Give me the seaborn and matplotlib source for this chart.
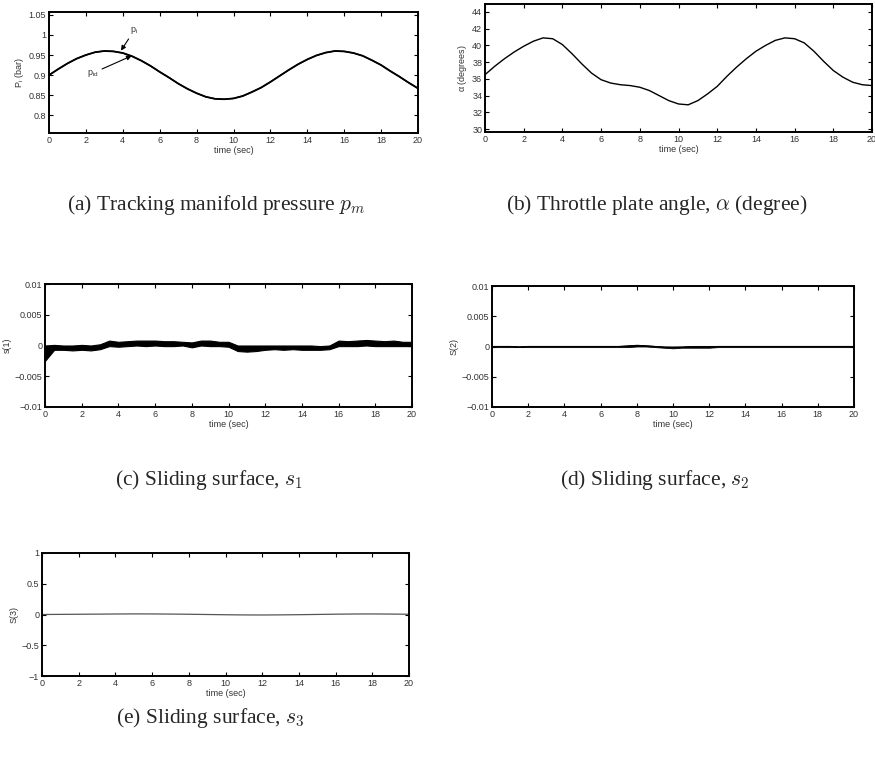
import numpy as np
import pandas as pd
import matplotlib
matplotlib.use("Agg")
import matplotlib.pyplot as plt
import seaborn as sns

# ---------------- data ----------------
time_half = [i * 0.5 for i in range(41)]  # 0..20 s, 0.5 s step

p_i = [0.900, 0.915, 0.929, 0.941, 0.950, 0.957, 0.960, 0.959, 0.955, 0.947,
       0.936, 0.923, 0.908, 0.894, 0.879, 0.866, 0.855, 0.846, 0.841, 0.840,
       0.842, 0.848, 0.858, 0.869, 0.883, 0.898, 0.913, 0.927, 0.939, 0.949,
       0.956, 0.960, 0.959, 0.955, 0.948, 0.937, 0.925, 0.910, 0.896, 0.881,
       0.867]
p_id = [0.900, 0.915, 0.929, 0.941, 0.950, 0.957, 0.960, 0.959, 0.955, 0.947,
        0.936, 0.923, 0.908, 0.894, 0.879, 0.866, 0.855, 0.846, 0.841, 0.840,
        0.842, 0.848, 0.858, 0.869, 0.883, 0.898, 0.913, 0.927, 0.939, 0.949,
        0.956, 0.960, 0.959, 0.955, 0.948, 0.937, 0.925, 0.910, 0.896, 0.881,
        0.867]

alpha_deg = [36.5, 37.5, 38.4, 39.2, 39.9, 40.5, 40.9, 40.8, 40.1, 39.0,
             37.8, 36.7, 35.9, 35.5, 35.3, 35.2, 35.0, 34.6, 34.0, 33.4,
             33.0, 32.9, 33.4, 34.2, 35.1, 36.3, 37.4, 38.4, 39.3, 40.0,
             40.6, 40.9, 40.8, 40.3, 39.3, 38.1, 37.0, 36.2, 35.6, 35.3,
             35.2]

# sliding surface s1: chattering band (lower / upper envelope, x1e-3)
s1_low = [-2.5, -0.7, -0.7, -0.8, -0.7, -0.8, -0.6, -0.1, -0.2, -0.1,
          0.0, -0.1, 0.0, -0.1, -0.1, 0.0, -0.3, 0.0, -0.1, -0.1,
          -0.2, -0.9, -1.0, -0.9, -0.7, -0.6, -0.7, -0.6, -0.7, -0.7,
          -0.7, -0.6, -0.1, -0.1, -0.1, 0.0, -0.1, -0.1, -0.1, -0.1,
          -0.1]
s1_high = [0.0, 0.1, 0.0, 0.0, 0.1, 0.0, 0.2, 0.8, 0.6, 0.7,
           0.8, 0.8, 0.8, 0.7, 0.7, 0.6, 0.5, 0.8, 0.8, 0.6,
           0.6, 0.0, 0.0, 0.0, 0.0, 0.0, 0.0, 0.0, 0.0, 0.0,
           -0.1, 0.0, 0.8, 0.7, 0.8, 0.9, 0.8, 0.7, 0.8, 0.6,
           0.6]

# sliding surface s2 (x1e-3)
s2_low = [-0.1, -0.1, -0.1, -0.1, -0.1, -0.1, -0.1, -0.1, -0.1, -0.1,
          -0.1, -0.1, -0.1, -0.1, -0.1, -0.1, 0.0, 0.0, -0.1, -0.2,
          -0.3, -0.2, -0.2, -0.2, -0.2, -0.1, -0.1, -0.1, -0.1, -0.1,
          -0.1, -0.1, -0.1, -0.1, -0.1, -0.1, -0.1, -0.1, -0.1, -0.1,
          -0.1]
s2_high = [0.1, 0.1, 0.1, 0.0, 0.1, 0.1, 0.1, 0.1, 0.1, 0.1,
           0.1, 0.1, 0.1, 0.1, 0.1, 0.2, 0.3, 0.2, 0.1, 0.0,
           0.0, 0.0, 0.1, 0.1, 0.1, 0.1, 0.1, 0.1, 0.1, 0.1,
           0.1, 0.1, 0.1, 0.1, 0.1, 0.1, 0.1, 0.1, 0.1, 0.1,
           0.1]

time_full = list(range(21))
s3 = [0.0, 0.002, 0.004, 0.006, 0.008, 0.010, 0.009, 0.007, 0.004, 0.0,
      -0.004, -0.007, -0.008, -0.006, -0.003, 0.001, 0.005, 0.008, 0.009,
      0.007, 0.004]

x_ticks = [0, 2, 4, 6, 8, 10, 12, 14, 16, 18, 20]
captions = [r"(a) Tracking manifold pressure $p_m$",
            r"(b) Throttle plate angle, $\alpha$ (degree)",
            r"(c) Sliding surface, $s_1$",
            r"(d) Sliding surface, $s_2$",
            r"(e) Sliding surface, $s_3$"]

# ---------------- style ----------------
sns.set_style("ticks")
plt.rcParams['font.family'] = ['Liberation Sans', 'DejaVu Sans']
plt.rcParams['mathtext.fontset'] = 'cm'
plt.rcParams['xtick.direction'] = 'in'
plt.rcParams['ytick.direction'] = 'in'

W, H = 875, 764
fig = plt.figure(figsize=(W / 100, H / 100), dpi=100)


def make_ax(left, right, top, bottom):
    return fig.add_axes([left / W, 1 - bottom / H, (right - left) / W, (bottom - top) / H])


def style(ax, ylabel, yticks, yticklabels, ylim, xlabel=True):
    ax.set_xlim(0, 20)
    ax.set_ylim(*ylim)
    ax.set_xticks(x_ticks)
    ax.set_xticklabels([str(t) for t in x_ticks])
    ax.set_yticks(yticks)
    ax.set_yticklabels(yticklabels)
    ax.tick_params(axis='both', which='both', direction='in', length=3, width=0.8,
                   labelsize=6.5, colors='black', labelcolor='#333333',
                   top=True, right=True, pad=2)
    for sp in ax.spines.values():
        sp.set_visible(True)
        sp.set_linewidth(1.4)
        sp.set_color('black')
    ax.set_ylabel(ylabel, fontsize=6.5, color='#333333', labelpad=2)
    if xlabel:
        ax.set_xlabel("time (sec)", fontsize=6.5, color='#333333', labelpad=1)
    else:
        ax.set_xlabel("")


lab_s = ["\u22120.01", "\u22120.005", "0", "0.005", "0.01"]

# (a)
axa = make_ax(49, 418, 12, 133)
df_a = pd.DataFrame({"t": time_half, "pid": p_id, "pi": p_i})
sns.lineplot(data=df_a, x="t", y="pid", ax=axa, color='black', linewidth=1.3)
sns.lineplot(data=df_a, x="t", y="pi", ax=axa, color='black', linewidth=1.0)
style(axa, r"P$_\mathregular{i}$ (bar)", [0.8, 0.85, 0.9, 0.95, 1.0, 1.05],
      ["0.8", "0.85", "0.9", "0.95", "1", "1.05"], (0.756, 1.057))
axa.annotate(r"p$_\mathregular{i}$", xy=(3.9, 0.961), xytext=(4.4, 0.998),
             fontsize=6.5, color='#333333', ha='left', va='bottom',
             arrowprops=dict(arrowstyle='-|>', color='black', lw=0.8, mutation_scale=7,
                             shrinkA=0, shrinkB=0))
axa.annotate(r"p$_\mathregular{id}$", xy=(4.48, 0.948), xytext=(2.7, 0.905),
             fontsize=6.5, color='#333333', ha='right', va='center',
             arrowprops=dict(arrowstyle='-|>', color='black', lw=0.8, mutation_scale=7,
                             shrinkA=0, shrinkB=0))

# (b)
axb = make_ax(485, 872, 4, 132)
df_b = pd.DataFrame({"t": time_half, "alpha": alpha_deg})
sns.lineplot(data=df_b, x="t", y="alpha", ax=axb, color='black', linewidth=1.0)
style(axb, r"$\mathregular{\alpha}$ (degrees)", [30, 32, 34, 36, 38, 40, 42, 44],
      ["30", "32", "34", "36", "38", "40", "42", "44"], (29.65, 44.95))

# (c)
axc = make_ax(45, 412, 284, 407)
s1_mid = [(lo + hi) / 2e3 for lo, hi in zip(s1_low, s1_high)]
df_c = pd.DataFrame({"t": time_half, "s": s1_mid})
axc.fill_between(time_half, [v / 1e3 for v in s1_low], [v / 1e3 for v in s1_high],
                 color='black', linewidth=0.8, edgecolor='black')
sns.lineplot(data=df_c, x="t", y="s", ax=axc, color='black', linewidth=1.0)
style(axc, "s(1)", [-0.01, -0.005, 0, 0.005, 0.01], lab_s, (-0.01, 0.01))

# (d)
axd = make_ax(492, 854, 286, 407)
s2_mid = [(lo + hi) / 2e3 for lo, hi in zip(s2_low, s2_high)]
df_d = pd.DataFrame({"t": time_half, "s": s2_mid})
axd.fill_between(time_half, [v / 1e3 for v in s2_low], [v / 1e3 for v in s2_high],
                 color='black', linewidth=0.6, edgecolor='black')
sns.lineplot(data=df_d, x="t", y="s", ax=axd, color='black', linewidth=0.8)
style(axd, "S(2)", [-0.01, -0.005, 0, 0.005, 0.01], lab_s, (-0.01, 0.01))

# (e)
axe = make_ax(42, 409, 553, 676)
df_e = pd.DataFrame({"t": time_full, "s": s3})
sns.lineplot(data=df_e, x="t", y="s", ax=axe, color='#555555', linewidth=0.9)
style(axe, "S(3)", [-1, -0.5, 0, 0.5, 1],
      ["\u22121", "\u22120.5", "0", "0.5", "1"], (-1, 1))

# captions
cap_pos = [(216, 205), (657, 205), (209, 480), (655, 480), (210, 718)]
for (cx, cy), txt in zip(cap_pos, captions):
    fig.text(cx / W, 1 - cy / H, txt, ha='center', va='center', fontsize=15.5,
             family=['Liberation Serif', 'DejaVu Serif'])

fig.savefig("out.png", dpi=100)
